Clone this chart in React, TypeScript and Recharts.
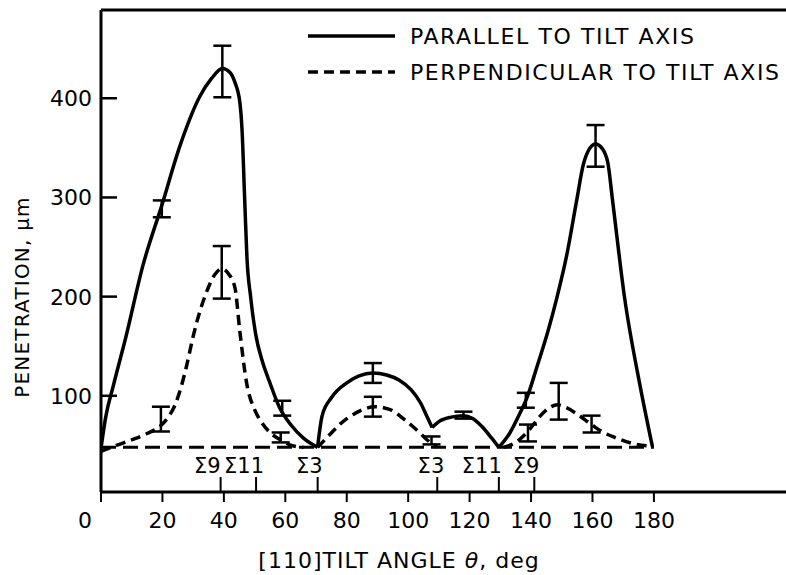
import React from 'react';
import {
  ComposedChart,
  Line,
  Scatter,
  ErrorBar,
  XAxis,
  YAxis,
  ReferenceLine,
  Legend,
} from 'recharts';

// curve lobes: [tilt angle, penetration]
const parallelLobe1 = [[0, 47], [1.5, 78], [4, 110], [8, 158], [13.7, 232], [19.8, 292], [25.7, 352], [32.2, 402], [36, 420], [39.5, 430], [42, 426], [43.6, 416], [45.2, 396], [45.9, 369], [46.8, 296], [47.5, 240], [48.7, 200], [50.3, 163], [52.5, 135], [55, 113], [58, 89], [62, 70], [66, 57], [70.5, 48]];
const parallelLobe2 = [[70.5, 48], [72, 80], [75, 98], [80, 113], [84, 120], [88.5, 123], [93, 121], [97, 116], [101, 106], [104, 93], [106, 80], [107.8, 68]];
const parallelLobe3 = [[107.8, 68], [110, 74], [114, 78.5], [118, 80], [121, 77], [124, 69], [127, 58], [129.5, 48]];
const parallelLobe4 = [[129.5, 48], [133, 62], [136, 80], [138.9, 100], [142, 130], [145.5, 165], [148.5, 200], [151.5, 240], [154.8, 296], [157, 333], [159, 349], [161, 354], [163, 350], [165, 335], [166.5, 298], [170.4, 200], [175.5, 110], [179.5, 49]];

const perpLobe1 = [[0, 44], [5, 50], [10.4, 56], [15, 62], [19.5, 70], [22, 79], [24, 90], [26, 108], [28, 132], [30, 160], [34.4, 205], [37, 222], [39.3, 228], [41.5, 223], [43.6, 209], [45.2, 165], [47.4, 113], [50, 86], [51.7, 76], [55, 63], [58.2, 56], [62, 50], [66, 48]];
const perpLobe2 = [[70.5, 48], [74.5, 61], [78, 72], [82, 81], [86, 87], [89, 89], [92, 88], [95, 85], [98, 78], [101.5, 69], [104, 62], [106, 56], [109.5, 48]];
const perpLobe3 = [[131, 48], [135, 53], [139.5, 66], [142.8, 79], [146, 88], [148.6, 91], [151.5, 88], [154.8, 82], [159.7, 71], [163, 64], [166.5, 59], [173, 52], [179.5, 49]];

const baseline = [[0, 48], [180, 48]];

// error bars: low / high
const parallelBars = [
  { x: 19.8, lo: 280, hi: 297 },
  { x: 39.5, lo: 401, hi: 453 },
  { x: 59, lo: 80, hi: 95 },
  { x: 88.5, lo: 113, hi: 133 },
  { x: 118, lo: 77, hi: 84 },
  { x: 138.3, lo: 88, hi: 103 },
  { x: 161, lo: 331, hi: 373 },
];
const perpBars = [
  { x: 19.5, lo: 64, hi: 89 },
  { x: 39.3, lo: 198, hi: 251 },
  { x: 58.5, lo: 53, hi: 63 },
  { x: 88.5, lo: 79, hi: 99 },
  { x: 107.6, lo: 51, hi: 59 },
  { x: 139, lo: 54, hi: 71 },
  { x: 149, lo: 76, hi: 113 },
  { x: 159.7, lo: 63, hi: 80 },
];

const xTicks = [0, 20, 40, 60, 80, 100, 120, 140, 160, 180];
const yTicks = [100, 200, 300, 400];
const sigmaAngles = [38.94, 50.48, 70.53, 109.47, 129.52, 141.06];
const sigmaLabels = ['Σ9', 'Σ11', 'Σ3', 'Σ3', 'Σ11', 'Σ9'];
// labels sit a little right of their ticks in the original
const sigmaShift = [0, 8, 5, 7, 3, 5];

const X_MAX = 223;
const Y_MIN = 3;
const Y_MAX = 489;

const FONT = '"DejaVu Sans", sans-serif';

const toPts = (arr: number[][]) => arr.map(([x, y]) => ({ x, y }));
const toBars = (arr: { x: number; lo: number; hi: number }[]) =>
  arr.map((b) => {
    const y = (b.lo + b.hi) / 2;
    return { x: b.x, y, err: [y - b.lo, b.hi - y] };
  });

const XTick = (props: any) => {
  const { x, y, payload } = props;
  const v = payload.value;
  const si = sigmaAngles.indexOf(v);
  if (si >= 0) {
    return (
      <g>
        <line x1={x} x2={x} y1={y} y2={y - 15} stroke="#000" strokeWidth={2} />
        <text x={x + sigmaShift[si]} y={y - 19} textAnchor="end" fontSize={21} fontFamily={FONT} fill="#000">
          {sigmaLabels[si]}
        </text>
      </g>
    );
  }
  return (
    <g>
      <line x1={x} x2={x} y1={y} y2={y + 10} stroke="#000" strokeWidth={2} />
      <text x={v === 0 ? x - 16 : x} y={y + 36} textAnchor="middle" fontSize={22} fontFamily={FONT} fill="#000">
        {v}
      </text>
    </g>
  );
};

const YTick = (props: any) => {
  const { x, y, payload } = props;
  return (
    <g>
      <line x1={x} x2={x + 16} y1={y} y2={y} stroke="#000" strokeWidth={2.5} />
      <text x={x - 9} y={y + 8} textAnchor="end" fontSize={22} fontFamily={FONT} fill="#000">
        {payload.value}
      </text>
    </g>
  );
};

const LegendBox = (props: any) => {
  const items = (props.payload || []).filter((p: any) => p.type !== 'none' && p.value && p.value !== 'y');
  return (
    <div style={{ fontFamily: FONT, fontSize: 22, letterSpacing: 1.6, color: '#000' }}>
      {items.map((p: any, i: number) => (
        <div key={i} style={{ display: 'flex', alignItems: 'center', height: 36 }}>
          <svg width={95} height={10}>
            <line
              x1={3}
              x2={90}
              y1={5}
              y2={5}
              stroke="#000"
              strokeWidth={3.5}
              strokeDasharray={p.payload?.strokeDasharray}
            />
          </svg>
          <span style={{ marginLeft: 10, whiteSpace: 'nowrap' }}>{p.value}</span>
        </div>
      ))}
    </div>
  );
};

const solid = { stroke: '#000', strokeWidth: 3.5, dot: false, isAnimationActive: false, type: 'monotone' as const };
const dashed = { ...solid, strokeDasharray: '10 6' };

export default function App() {
  return (
    <div style={{ position: 'absolute', left: 0, top: 0, background: '#fff' }}>
      <ComposedChart width={786} height={575} margin={{ top: 10, right: 0, left: 0, bottom: 0 }}>
        <XAxis
          type="number"
          dataKey="x"
          domain={[0, X_MAX]}
          allowDataOverflow
          ticks={[...xTicks, ...sigmaAngles]}
          interval={0}
          tick={<XTick />}
          tickLine={false}
          tickSize={0}
          tickMargin={0}
          height={83}
          axisLine={{ stroke: '#000', strokeWidth: 3 }}
          label={{
            content: (p: any) => (
              <text
                x={p.viewBox.x + 298}
                y={p.viewBox.y + 76}
                textAnchor="middle"
                fontSize={22}
                fontFamily={FONT}
                letterSpacing={1}
                fill="#000"
              >
                [110]TILT ANGLE <tspan fontStyle="italic">θ</tspan>, deg
              </text>
            ),
          }}
        />
        <YAxis
          type="number"
          dataKey="y"
          domain={[Y_MIN, Y_MAX]}
          allowDataOverflow
          ticks={yTicks}
          interval={0}
          tick={<YTick />}
          tickLine={false}
          tickSize={0}
          tickMargin={0}
          width={101}
          axisLine={{ stroke: '#000', strokeWidth: 3 }}
          label={{
            content: (p: any) => (
              <text
                x={22}
                y={p.viewBox.y + 287}
                textAnchor="middle"
                fontSize={20}
                fontFamily={FONT}
                letterSpacing={1.2}
                fill="#000"
                transform={`rotate(-90 22 ${p.viewBox.y + 287})`}
                dominantBaseline="central"
              >
                PENETRATION, µm
              </text>
            ),
          }}
        />
        <ReferenceLine y={Y_MAX} stroke="#000" strokeWidth={3} ifOverflow="extendDomain" />
        <Legend
          layout="vertical"
          align="center"
          verticalAlign="middle"
          wrapperStyle={{ top: 18, left: 305, width: 480 }}
          content={<LegendBox />}
        />

        <Line {...solid} data={toPts(parallelLobe1)} dataKey="y" name="PARALLEL TO TILT AXIS" />
        <Line {...solid} data={toPts(parallelLobe2)} dataKey="y" legendType="none" />
        <Line {...solid} data={toPts(parallelLobe3)} dataKey="y" legendType="none" />
        <Line {...solid} data={toPts(parallelLobe4)} dataKey="y" legendType="none" />

        <Line {...dashed} data={toPts(perpLobe1)} dataKey="y" name="PERPENDICULAR TO TILT AXIS" />
        <Line {...dashed} data={toPts(perpLobe2)} dataKey="y" legendType="none" />
        <Line {...dashed} data={toPts(perpLobe3)} dataKey="y" legendType="none" />
        <Line {...dashed} type="linear" strokeWidth={3} strokeDasharray="15 7" data={toPts(baseline)} dataKey="y" legendType="none" />

        <Scatter data={toBars(parallelBars)} dataKey="y" shape={() => <g />} legendType="none" isAnimationActive={false}>
          <ErrorBar dataKey="err" direction="y" width={9} stroke="#000" strokeWidth={2.5} isAnimationActive={false} />
        </Scatter>
        <Scatter data={toBars(perpBars)} dataKey="y" shape={() => <g />} legendType="none" isAnimationActive={false}>
          <ErrorBar dataKey="err" direction="y" width={9} stroke="#000" strokeWidth={2.5} isAnimationActive={false} />
        </Scatter>
      </ComposedChart>
    </div>
  );
}
